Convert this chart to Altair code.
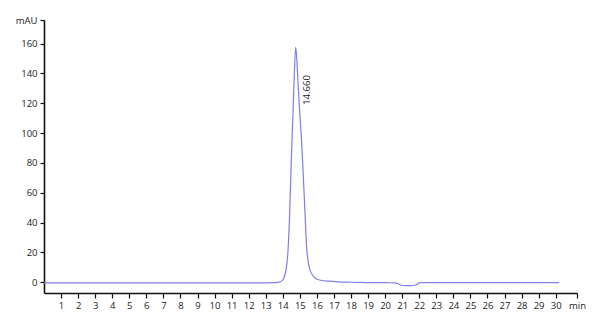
import altair as alt
import pandas as pd

times = [0, 5, 10, 13.0, 13.6, 13.85, 14.0, 14.1, 14.2, 14.3, 14.4, 14.5, 14.6, 14.68,
         14.76, 14.84, 14.92, 15.0, 15.1, 15.2, 15.3, 15.4, 15.5, 15.6, 15.8, 16.0, 16.3,
         16.7, 17.2, 18, 19, 20, 20.6, 20.8, 20.95, 21.2, 21.5, 21.7, 21.85, 21.95, 22.05,
         23, 26, 30.2]
signal = [-0.4, -0.4, -0.4, -0.4, -0.3, 0.3, 1.5, 4, 9, 20, 45, 82, 114, 141,
          157.5, 146, 128, 113, 95, 72, 47, 23, 13, 8, 4, 2, 1.2,
          0.7, 0.3, 0.0, -0.2, -0.3, -0.4, -1.2, -2.0, -2.2, -2.2, -2.0, -1.5, -0.8, -0.2,
          -0.2, -0.3, -0.3]

peak_rt = [14.660]
peak_label = ["14.660"]

x_ticks = list(range(1, 31)) + [31.25]
y_ticks = [0, 20, 40, 60, 80, 100, 120, 140, 160, 175.8]

df = pd.DataFrame({"t": times, "v": signal})
pk = pd.DataFrame({"t": peak_rt, "label": peak_label})

FONT = "Open Sans"

xscale = alt.Scale(domain=[0, 31.25], nice=False, zero=False)
yscale = alt.Scale(domain=[-7.2, 175.8], nice=False, zero=False)

xaxis = alt.Axis(
    values=x_ticks, tickCount=100, title=None, grid=False,
    labelExpr="datum.value > 31 ? 'min' : format(datum.value, 'd')",
    labelOverlap=False, labelBound=False,
    domainColor="#111", domainWidth=1.6, tickColor="#111", tickWidth=1.2, tickSize=5,
    labelFont=FONT, labelFontSize=9.5, labelFontWeight=500, labelColor="#222",
    labelPadding=2, labelFlush=False)

line = alt.Chart(df).mark_line(color="#7f7fe8", strokeWidth=1.2, interpolate="monotone").encode(
    x=alt.X("t:Q", scale=xscale, axis=xaxis),
    y=alt.Y("v:Q", scale=yscale, axis=alt.Axis(
        values=y_ticks, tickCount=100, title=None, grid=False,
        labelExpr="datum.value > 170 ? 'mAU' : format(datum.value, 'd')",
        labelOverlap=False, labelBound=False,
        domainColor="#111", domainWidth=1.6, tickColor="#111", tickWidth=1.2, tickSize=4,
        labelFont=FONT, labelFontSize=9.5, labelFontWeight=500, labelColor="#222",
        labelPadding=3, labelFlush=False)),
)

text = alt.Chart(pk).mark_text(angle=270, font=FONT, fontSize=9.5, fontWeight=500, color="#222",
                               align="center", baseline="middle", dy=13).encode(
    x=alt.X("t:Q", scale=xscale, axis=xaxis),
    y=alt.value(70),
    text="label:N",
)

chart = (line + text).properties(
    width=533, height=273,
    background="white",
    autosize=alt.AutoSizeParams(type="none"),
    padding={"left": 44, "top": 20, "right": 23, "bottom": 36},
).configure_view(strokeWidth=0, stroke=None)

chart.save("out.html", embed_options={"renderer": "svg", "actions": False})
